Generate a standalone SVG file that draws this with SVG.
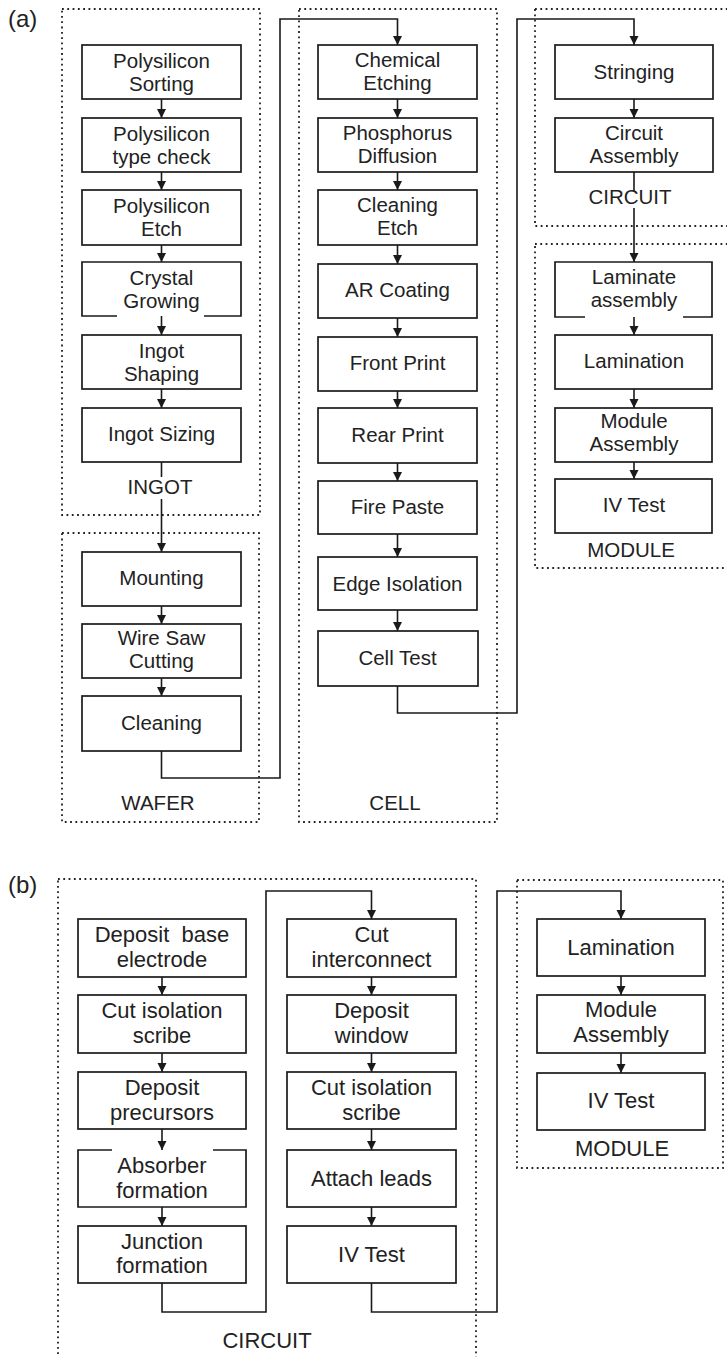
<svg xmlns="http://www.w3.org/2000/svg" width="727" height="1357" viewBox="0 0 727 1357">
  <defs>
    <style>
      .bg { fill: #ffffff; }
      .zone { fill: none; stroke: #222222; stroke-width: 1.8; stroke-dasharray: 1.8 3.5; }
      .box { fill: #ffffff; stroke: #1a1a1a; stroke-width: 1.7; }
      .edge { fill: none; stroke: #1a1a1a; stroke-width: 1.7; }
      .flow { fill: none; stroke: #1a1a1a; stroke-width: 1.6; marker-end: url(#tip); }
      .mask { fill: #ffffff; stroke: none; }
      text { font-family: "Liberation Sans", Arial, Helvetica, sans-serif; fill: #222222; text-anchor: middle; }
      .ta { font-size: 20.5px; }
      .tb { font-size: 22px; }
      .tag { font-size: 24px; text-anchor: start; }
    </style>
    <marker id="tip" viewBox="0 0 10 10" refX="10" refY="5" markerUnits="userSpaceOnUse" markerWidth="9.5" markerHeight="9.5" orient="auto">
      <path d="M0,0 L10,5 L0,10 Z" fill="#1a1a1a"/>
    </marker>
  </defs>

  <rect class="bg" x="0" y="0" width="727" height="1357"/>

  <!-- panel tags -->
  <text class="tag" x="8" y="27">(a)</text>
  <text class="tag" x="8" y="893">(b)</text>

  <!-- process stage outlines -->
  <g id="zone-ingot"><rect class="zone" x="62" y="9" width="198" height="506"/></g>
  <g id="zone-wafer"><rect class="zone" x="62" y="533" width="197" height="289"/></g>
  <g id="zone-cell"><rect class="zone" x="299" y="9" width="198" height="813"/></g>
  <g id="zone-circuit-a"><rect class="zone" x="535" y="9" width="200" height="217"/></g>
  <g id="zone-module-a"><rect class="zone" x="535" y="244" width="200" height="324"/></g>
  <g id="zone-circuit-b"><rect class="zone" x="58" y="879" width="418" height="490"/></g>
  <g id="zone-module-b"><rect class="zone" x="517" y="880" width="206" height="288"/></g>

  <!-- connectors -->
  <g id="connectors">
    <!-- (a) ingot / wafer column -->
    <line class="flow" x1="161.5" y1="99" x2="161.5" y2="118"/>
    <line class="flow" x1="161.5" y1="172" x2="161.5" y2="190"/>
    <line class="flow" x1="161.5" y1="245" x2="161.5" y2="262"/>
    <line class="flow" x1="161.5" y1="316" x2="161.5" y2="335"/>
    <line class="flow" x1="161.5" y1="389" x2="161.5" y2="408"/>
    <line class="flow" x1="161.5" y1="462" x2="161.5" y2="552"/>
    <line class="flow" x1="161.5" y1="606" x2="161.5" y2="624"/>
    <line class="flow" x1="161.5" y1="678" x2="161.5" y2="696"/>
    <path class="flow" d="M161.5,751 V778 H280 V19 H397.5 V45"/>
    <!-- (a) cell column -->
    <line class="flow" x1="397.5" y1="99" x2="397.5" y2="118"/>
    <line class="flow" x1="397.5" y1="172" x2="397.5" y2="190"/>
    <line class="flow" x1="397.5" y1="245" x2="397.5" y2="264"/>
    <line class="flow" x1="397.5" y1="318" x2="397.5" y2="337"/>
    <line class="flow" x1="397.5" y1="391" x2="397.5" y2="408"/>
    <line class="flow" x1="397.5" y1="463" x2="397.5" y2="481"/>
    <line class="flow" x1="397.5" y1="534" x2="397.5" y2="557"/>
    <line class="flow" x1="397.5" y1="610" x2="397.5" y2="631"/>
    <path class="flow" d="M397.5,686 V713 H517 V19 H634 V45"/>
    <!-- (a) circuit / module column -->
    <line class="flow" x1="634" y1="99" x2="634" y2="118"/>
    <line class="flow" x1="634" y1="172" x2="634" y2="262"/>
    <line class="flow" x1="634" y1="317" x2="634" y2="335"/>
    <line class="flow" x1="634" y1="389" x2="634" y2="408"/>
    <line class="flow" x1="634" y1="462" x2="634" y2="479"/>
    <!-- (b) first circuit column -->
    <line class="flow" x1="162" y1="977" x2="162" y2="995"/>
    <line class="flow" x1="162" y1="1053" x2="162" y2="1072"/>
    <line class="flow" x1="162" y1="1129" x2="162" y2="1150"/>
    <line class="flow" x1="162" y1="1207" x2="162" y2="1226"/>
    <path class="flow" d="M162,1283 V1312 H266 V891 H371.5 V919"/>
    <!-- (b) second circuit column -->
    <line class="flow" x1="371.5" y1="977" x2="371.5" y2="995"/>
    <line class="flow" x1="371.5" y1="1053" x2="371.5" y2="1072"/>
    <line class="flow" x1="371.5" y1="1129" x2="371.5" y2="1150"/>
    <line class="flow" x1="371.5" y1="1207" x2="371.5" y2="1226"/>
    <path class="flow" d="M371.5,1283 V1312 H497 V891 H621 V919"/>
    <!-- (b) module column -->
    <line class="flow" x1="621" y1="976" x2="621" y2="995"/>
    <line class="flow" x1="621" y1="1053" x2="621" y2="1073"/>
  </g>

  <!-- stage labels -->
  <g id="label-ingot"><rect class="mask" x="125" y="477" width="72" height="22"/><text class="ta" x="160" y="494">INGOT</text></g>
  <g id="label-wafer"><text class="ta" x="158" y="810">WAFER</text></g>
  <g id="label-cell"><text class="ta" x="395" y="810">CELL</text></g>
  <g id="label-circuit-a"><rect class="mask" x="588" y="192" width="86" height="16"/><text class="ta" x="630" y="204">CIRCUIT</text></g>
  <g id="label-module-a"><text class="ta" x="631" y="557">MODULE</text></g>
  <g id="label-circuit-b"><text class="tb" x="267" y="1348">CIRCUIT</text></g>
  <g id="label-module-b"><text class="tb" x="622" y="1156">MODULE</text></g>

  <!-- (a) ingot steps -->
  <g id="polysilicon-sorting"><rect class="box" x="82" y="45" width="159" height="54"/><text class="ta"><tspan x="161.5" y="68">Polysilicon</tspan><tspan x="161.5" y="91">Sorting</tspan></text></g>
  <g id="polysilicon-type-check"><rect class="box" x="82" y="118" width="159" height="54"/><text class="ta"><tspan x="161.5" y="141">Polysilicon</tspan><tspan x="161.5" y="164">type check</tspan></text></g>
  <g id="polysilicon-etch"><rect class="box" x="82" y="190" width="159" height="55"/><text class="ta"><tspan x="161.5" y="213">Polysilicon</tspan><tspan x="161.5" y="236">Etch</tspan></text></g>
  <g id="crystal-growing"><rect class="mask" x="82" y="262" width="159" height="54"/><path class="edge" d="M117,316 H82 V262 H241 V316 H204"/><text class="ta"><tspan x="161.5" y="285">Crystal</tspan><tspan x="161.5" y="308">Growing</tspan></text></g>
  <g id="ingot-shaping"><rect class="box" x="82" y="335" width="159" height="54"/><text class="ta"><tspan x="161.5" y="358">Ingot</tspan><tspan x="161.5" y="381">Shaping</tspan></text></g>
  <g id="ingot-sizing"><rect class="box" x="82" y="408" width="159" height="54"/><text class="ta" x="161.5" y="441">Ingot Sizing</text></g>

  <!-- (a) wafer steps -->
  <g id="mounting"><rect class="box" x="82" y="552" width="159" height="54"/><text class="ta" x="161.5" y="585">Mounting</text></g>
  <g id="wire-saw-cutting"><rect class="box" x="82" y="624" width="159" height="54"/><text class="ta"><tspan x="161.5" y="645">Wire Saw</tspan><tspan x="161.5" y="668">Cutting</tspan></text></g>
  <g id="cleaning"><rect class="box" x="82" y="696" width="159" height="55"/><text class="ta" x="161.5" y="730">Cleaning</text></g>

  <!-- (a) cell steps -->
  <g id="chemical-etching"><rect class="box" x="318" y="45" width="159" height="54"/><text class="ta"><tspan x="397.5" y="67">Chemical</tspan><tspan x="397.5" y="90">Etching</tspan></text></g>
  <g id="phosphorus-diffusion"><rect class="box" x="318" y="118" width="159" height="54"/><text class="ta"><tspan x="397.5" y="140">Phosphorus</tspan><tspan x="397.5" y="163">Diffusion</tspan></text></g>
  <g id="cleaning-etch"><rect class="box" x="318" y="190" width="159" height="55"/><text class="ta"><tspan x="397.5" y="212">Cleaning</tspan><tspan x="397.5" y="235">Etch</tspan></text></g>
  <g id="ar-coating"><rect class="box" x="318" y="264" width="159" height="54"/><text class="ta" x="397.5" y="297">AR Coating</text></g>
  <g id="front-print"><rect class="box" x="318" y="337" width="159" height="54"/><text class="ta" x="397.5" y="370">Front Print</text></g>
  <g id="rear-print"><rect class="box" x="318" y="408" width="159" height="55"/><text class="ta" x="397.5" y="442">Rear Print</text></g>
  <g id="fire-paste"><rect class="box" x="318" y="481" width="159" height="53"/><text class="ta" x="397.5" y="514">Fire Paste</text></g>
  <g id="edge-isolation"><rect class="box" x="318" y="557" width="159" height="53"/><text class="ta" x="397.5" y="591">Edge Isolation</text></g>
  <g id="cell-test"><rect class="box" x="318" y="631" width="160" height="55"/><text class="ta" x="397.5" y="665">Cell Test</text></g>

  <!-- (a) circuit and module steps -->
  <g id="stringing"><rect class="box" x="555" y="45" width="158" height="54"/><text class="ta" x="634" y="79">Stringing</text></g>
  <g id="circuit-assembly"><rect class="box" x="555" y="118" width="158" height="54"/><text class="ta"><tspan x="634" y="140">Circuit</tspan><tspan x="634" y="163">Assembly</tspan></text></g>
  <g id="laminate-assembly"><rect class="mask" x="555" y="262" width="157" height="55"/><path class="edge" d="M585,317 H555 V262 H712 V317 H683"/><text class="ta"><tspan x="634" y="284">Laminate</tspan><tspan x="634" y="307">assembly</tspan></text></g>
  <g id="lamination-a"><rect class="box" x="555" y="335" width="157" height="54"/><text class="ta" x="634" y="368">Lamination</text></g>
  <g id="module-assembly-a"><rect class="box" x="555" y="408" width="157" height="54"/><text class="ta"><tspan x="634" y="428">Module</tspan><tspan x="634" y="451">Assembly</tspan></text></g>
  <g id="iv-test-a"><rect class="box" x="555" y="479" width="157" height="54"/><text class="ta" x="634" y="512">IV Test</text></g>

  <!-- (b) first circuit column -->
  <g id="deposit-base-electrode"><rect class="box" x="78" y="919" width="168" height="58"/><text class="tb" xml:space="preserve"><tspan x="162" y="942">Deposit  base</tspan><tspan x="162" y="967">electrode</tspan></text></g>
  <g id="cut-isolation-scribe-1"><rect class="box" x="78" y="995" width="168" height="58"/><text class="tb"><tspan x="162" y="1018">Cut isolation</tspan><tspan x="162" y="1043">scribe</tspan></text></g>
  <g id="deposit-precursors"><rect class="box" x="78" y="1072" width="168" height="57"/><text class="tb"><tspan x="162" y="1095">Deposit</tspan><tspan x="162" y="1120">precursors</tspan></text></g>
  <g id="absorber-formation"><rect class="mask" x="78" y="1150" width="168" height="57"/><path class="edge" d="M112,1150 H78 V1207 H246 V1150 H213"/><text class="tb"><tspan x="162" y="1173">Absorber</tspan><tspan x="162" y="1198">formation</tspan></text></g>
  <g id="junction-formation"><rect class="box" x="78" y="1226" width="168" height="57"/><text class="tb"><tspan x="162" y="1249">Junction</tspan><tspan x="162" y="1273">formation</tspan></text></g>

  <!-- (b) second circuit column -->
  <g id="cut-interconnect"><rect class="box" x="287" y="919" width="169" height="58"/><text class="tb"><tspan x="371.5" y="942">Cut</tspan><tspan x="371.5" y="967">interconnect</tspan></text></g>
  <g id="deposit-window"><rect class="box" x="287" y="995" width="169" height="58"/><text class="tb"><tspan x="371.5" y="1018">Deposit</tspan><tspan x="371.5" y="1043">window</tspan></text></g>
  <g id="cut-isolation-scribe-2"><rect class="box" x="287" y="1072" width="169" height="57"/><text class="tb"><tspan x="371.5" y="1095">Cut isolation</tspan><tspan x="371.5" y="1120">scribe</tspan></text></g>
  <g id="attach-leads"><rect class="box" x="287" y="1150" width="169" height="57"/><text class="tb" x="371.5" y="1186">Attach leads</text></g>
  <g id="iv-test-b1"><rect class="box" x="287" y="1226" width="169" height="57"/><text class="tb" x="371.5" y="1262">IV Test</text></g>

  <!-- (b) module column -->
  <g id="lamination-b"><rect class="box" x="537" y="919" width="168" height="57"/><text class="tb" x="621" y="955">Lamination</text></g>
  <g id="module-assembly-b"><rect class="box" x="537" y="995" width="168" height="58"/><text class="tb"><tspan x="621" y="1017">Module</tspan><tspan x="621" y="1042">Assembly</tspan></text></g>
  <g id="iv-test-b2"><rect class="box" x="537" y="1073" width="168" height="57"/><text class="tb" x="621" y="1108">IV Test</text></g>
</svg>
